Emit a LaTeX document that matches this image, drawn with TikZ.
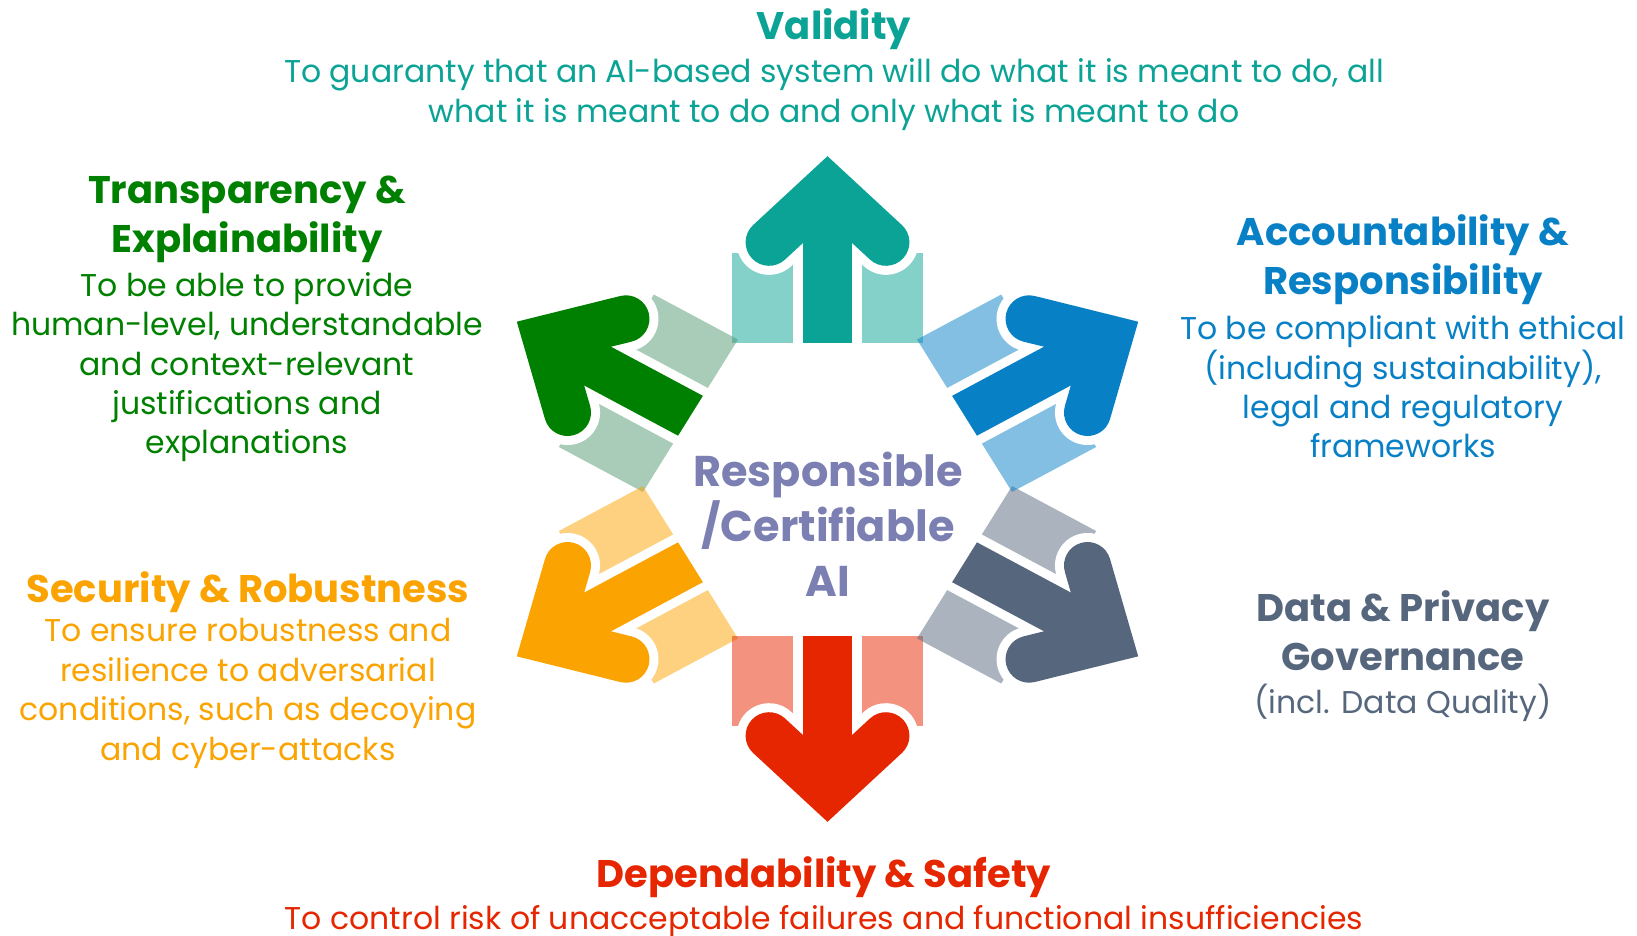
\documentclass[tikz,border=0pt]{standalone}
\usepackage{fontspec}
\setmainfont{Poppins}
\usetikzlibrary{positioning}

\definecolor{validc}{HTML}{0AA396}
\definecolor{transc}{HTML}{008000}
\definecolor{transband}{HTML}{51996F}
\definecolor{accc}{HTML}{0880C6}
\definecolor{datac}{HTML}{56677D}
\definecolor{secc}{HTML}{FBA300}
\definecolor{depc}{HTML}{E52600}
\definecolor{hubc}{HTML}{7B7FB2}

% one pillar: light band plus the arrow, rotated around the hub
\newcommand{\pillar}[3]{%
  \begin{scope}[shift={(hub)}, xscale=1.08, rotate=#1]
    \fill[#3, opacity=.5] (-88,146.5) rectangle (88,236.5);
    \draw[white, line width=65pt, line cap=round] (-54.1,246.7) -- (0,300.8) -- (54.1,246.7);
    \fill[white] (-32,140) rectangle (32,300);
    \draw[#2, line width=47pt, line cap=round] (-54.1,246.7) -- (0,300.8) -- (54.1,246.7);
    \fill[#2] (-23,146.5) rectangle (23,300);
  \end{scope}}

\begin{document}
\begin{tikzpicture}[x=1pt, y=1pt,
    ttl/.style={font=\bfseries\fontsize{38.5}{49}\selectfont, align=center, inner sep=0pt},
    txt/.style={font=\fontsize{31.5}{39.4}\selectfont, align=center, inner sep=0pt}]

    \useasboundingbox (0,0) rectangle (1637,-935);
    \coordinate (hub) at (827.5,-489);

    \pillar{0}{validc}{validc}
    \pillar{60}{transc}{transband}
    \pillar{120}{secc}{secc}
    \pillar{180}{depc}{depc}
    \pillar{240}{datac}{datac}
    \pillar{-60}{accc}{accc}

    \node (hubtxt) [ttl, hubc, anchor=north, font=\bfseries\fontsize{43}{55}\selectfont]
        at (828,-452) {Responsible\\/Certifiable\\AI};

    \node (valT) [ttl, validc, anchor=north] at (834,-8) {Validity};
    \node (valB) [txt, validc, below=9pt of valT]
        {To guaranty that an AI-based system will do what it is meant to do, all\\
         what it is meant to do and only what is meant to do};

    \node (traT) [ttl, transc, anchor=north] at (247,-176) {Transparency \&\\Explainability};
    \node (traB) [txt, transc, below=9pt of traT]
        {To be able to provide\\human-level, understandable\\and context-relevant\\
         justifications and\\explanations};

    \node (accT) [ttl, accc, anchor=north] at (1403,-214) {Accountability \&\\Responsibility};
    \node (accB) [txt, accc, below=11pt of accT]
        {To be compliant with ethical\\(including sustainability),\\legal and regulatory\\frameworks};

    \node (datT) [ttl, datac, anchor=north] at (1403,-590) {Data \& Privacy\\Governance};
    \node (datB) [txt, datac, below=13pt of datT] {(incl. Data Quality)};

    \node (secT) [ttl, secc, anchor=north] at (248,-571) {Security \& Robustness};
    \node (secB) [txt, secc, below=6pt of secT]
        {To ensure robustness and\\resilience to adversarial\\conditions, such as decoying\\
         and cyber-attacks};

    \node (depT) [ttl, depc, anchor=north] at (824,-856) {Dependability \& Safety};
    \node (depB) [txt, depc, below=8pt of depT]
        {To control risk of unacceptable failures and functional insufficiencies};
\end{tikzpicture}
\end{document}
